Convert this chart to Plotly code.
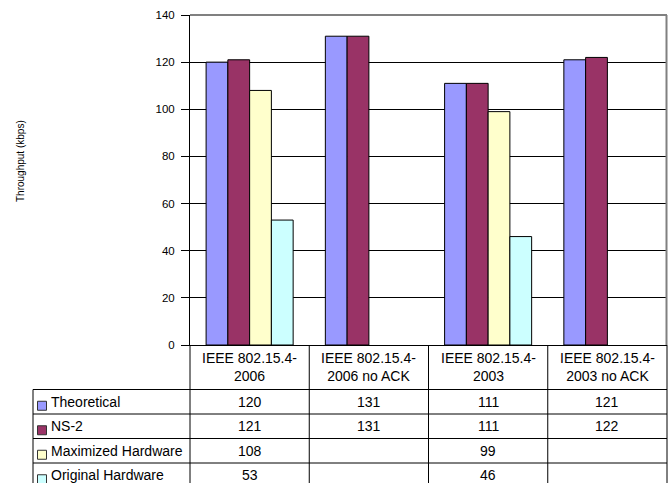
import plotly.graph_objects as go

# ---- data ----
categories = ["IEEE 802.15.4-2006", "IEEE 802.15.4-2006 no ACK",
              "IEEE 802.15.4-2003", "IEEE 802.15.4-2003 no ACK"]
header_labels = ["IEEE 802.15.4-<br>2006", "IEEE 802.15.4-<br>2006 no ACK",
                 "IEEE 802.15.4-<br>2003", "IEEE 802.15.4-<br>2003 no ACK"]
series_names = ["Theoretical", "NS-2", "Maximized Hardware", "Original Hardware"]
theoretical = [120, 131, 111, 121]
ns2 = [121, 131, 111, 122]
maximized_hw = [108, None, 99, None]
original_hw = [53, None, 46, None]
y_ticks = [0, 20, 40, 60, 80, 100, 120, 140]

series_values = [theoretical, ns2, maximized_hw, original_hw]
colors = ["#9999FF", "#993366", "#FFFFCC", "#CCFFFF"]

FONT = "Arial, Liberation Sans, sans-serif"
W, H = 670, 483
ML, MR, MT, MB = 190, 3, 15, 138
PW, PH = W - ML - MR, H - MT - MB


def px(x):
    """pixel x -> paper x"""
    return (x - ML) / PW


def py(y):
    """pixel y -> paper y"""
    return (H - MB - y) / PH


fig = go.Figure()
for name, vals, col in zip(series_names, series_values, colors):
    fig.add_trace(go.Bar(
        x=categories, y=vals, name=name,
        marker=dict(color=col, line=dict(color="black", width=1)),
        showlegend=False,
    ))

shapes = []
annotations = []


def hline(y, x0, x1, color="black", width=1):
    shapes.append(dict(type="line", xref="paper", yref="paper",
                       x0=px(x0), x1=px(x1), y0=py(y), y1=py(y),
                       line=dict(color=color, width=width)))


def vline(x, y0, y1, color="black", width=1):
    shapes.append(dict(type="line", xref="paper", yref="paper",
                       x0=px(x), x1=px(x), y0=py(y0), y1=py(y1),
                       line=dict(color=color, width=width)))


# plot-area frame: grey top and right edges
hline(MT, ML, W - MR, color="#808080", width=2)
vline(W - MR - 0.5, MT, H - MB, color="#808080", width=2)

# data table below the axis
table_left = 33
row_lines = [389.5, 414, 438.5, 463]
row_h = 24.5
n = len(categories)
col_w = PW / n
for yl in row_lines:
    hline(yl, table_left, W - MR)
vline(table_left, row_lines[0], H)
for i in range(n + 1):
    vline(ML + i * col_w, H - MB, H)

# category headers
for i, lab in enumerate(header_labels):
    annotations.append(dict(
        xref="paper", yref="paper", x=(i + 0.5) / n, y=py(367),
        text=lab, showarrow=False, xanchor="center", yanchor="middle",
        font=dict(family=FONT, size=14, color="black"),
    ))

# series rows: legend key, name and values
for r, (name, vals, col) in enumerate(zip(series_names, series_values, colors)):
    yc = row_lines[r] + row_h / 2
    shapes.append(dict(type="rect", xref="paper", yref="paper",
                       x0=px(37.5), x1=px(46.5), y0=py(yc - 0.5), y1=py(yc + 8.5),
                       fillcolor=col, line=dict(color="#333333", width=1)))
    annotations.append(dict(
        xref="paper", yref="paper", x=px(49), y=py(yc),
        text=name, showarrow=False, xanchor="left", yanchor="middle",
        font=dict(family=FONT, size=14, color="black"),
    ))
    for i, v in enumerate(vals):
        if v is None:
            continue
        annotations.append(dict(
            xref="paper", yref="paper", x=(i + 0.5) / n, y=py(yc),
            text=str(v), showarrow=False, xanchor="center", yanchor="middle",
            font=dict(family=FONT, size=14, color="black"),
        ))

# y-axis title
annotations.append(dict(
    xref="paper", yref="paper", x=px(20), y=py(161),
    text="Throughput (kbps)", showarrow=False, textangle=-90,
    xanchor="center", yanchor="middle",
    font=dict(family=FONT, size=10, color="black"),
))

fig.update_layout(
    width=W, height=H,
    margin=dict(l=ML, r=MR, t=MT, b=MB, pad=0),
    paper_bgcolor="white", plot_bgcolor="white",
    barmode="group", bargap=0.27, bargroupgap=0,
    font=dict(family=FONT, color="black"),
    shapes=shapes, annotations=annotations,
    xaxis=dict(showticklabels=False, ticks="", showgrid=False,
               showline=True, linecolor="black", linewidth=1,
               range=[-0.5, n - 0.5], fixedrange=True),
    yaxis=dict(range=[0, 140], tickvals=y_ticks, showgrid=True,
               gridcolor="black", gridwidth=1, zeroline=False,
               showline=True, linecolor="black", linewidth=1,
               ticks="outside", ticklen=8, tickcolor="black",
               ticklabelstandoff=4,
               tickfont=dict(family=FONT, size=11.5, color="black"),
               fixedrange=True),
)

fig.write_html("out.html")
